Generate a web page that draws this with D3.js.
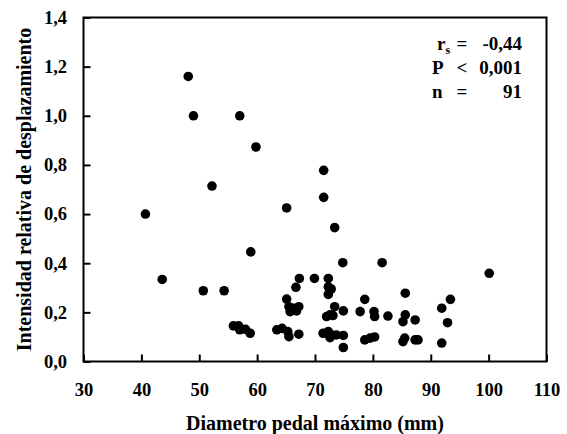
<!DOCTYPE html>
<html>
<head>
<meta charset="utf-8">
<script src="https://cdn.jsdelivr.net/npm/d3@7"></script>
<style>
  body { margin: 0; background: #fff; }
  svg text { font-family: "Liberation Serif", "Times New Roman", serif; font-weight: bold; fill: #000; }
</style>
</head>
<body>
<div class="chart"></div>
<script>
// diametro pedal maximo (mm)
const diametro = [
  40.7, 43.6, 48.1, 49.0, 50.7, 52.2, 54.3, 57.0, 58.9, 59.8,
  55.9, 56.8, 57.0, 58.0, 58.8,
  65.1, 71.5, 71.5, 73.4, 74.8, 81.6,
  67.3, 69.9, 72.3, 66.7, 72.3, 72.8, 72.3, 65.1,
  65.5, 65.7, 66.2, 67.2, 66.8,
  73.4, 74.9, 72.6, 72.0, 73.1,
  78.6, 77.8, 80.2, 80.3, 82.6,
  63.4, 64.3, 65.3, 65.5, 67.2,
  71.4, 72.3, 72.9, 72.6, 73.7, 74.9, 74.9,
  78.6, 79.5, 80.3,
  100.1, 85.6, 93.4, 91.9, 85.6, 85.2, 87.3, 92.9,
  85.5, 85.2, 87.3, 87.8, 91.9
];
// intensidad relativa de desplazamiento
const intensidad = [
  0.600, 0.334, 1.160, 1.000, 0.288, 0.714, 0.288, 1.000, 0.446, 0.873,
  0.145, 0.145, 0.129, 0.131, 0.115,
  0.625, 0.778, 0.668, 0.545, 0.402, 0.402,
  0.338, 0.338, 0.338, 0.302, 0.304, 0.295, 0.273, 0.254,
  0.223, 0.203, 0.217, 0.223, 0.206,
  0.223, 0.206, 0.190, 0.183, 0.187,
  0.253, 0.203, 0.203, 0.183, 0.185,
  0.129, 0.135, 0.122, 0.101, 0.111,
  0.115, 0.122, 0.108, 0.097, 0.108, 0.106, 0.057,
  0.088, 0.095, 0.100,
  0.359, 0.278, 0.253, 0.217, 0.190, 0.162, 0.169, 0.158,
  0.095, 0.081, 0.088, 0.088, 0.075
];

const xTicks = [30, 40, 50, 60, 70, 80, 90, 100, 110];
const yTicks = [0, 0.2, 0.4, 0.6, 0.8, 1.0, 1.2, 1.4];
const statLabels = ["r", "P", "n"];
const statOps = ["=", "<", "="];
const statValues = ["-0,44", "0,001", "91"];

const xTitle = "Diametro pedal máximo (mm)";
const yTitle = "Intensidad relativa de desplazamiento";

var cfg = {
  width: 463,
  height: 344,
  margin: {top: 17.5, right: 20, bottom: 72, left: 83.5}
};

var scale = {
  x: d3.scaleLinear()
      .domain([30, 110])
      .range([cfg.margin.left, cfg.margin.left + cfg.width]),
  y: d3.scaleLinear()
      .domain([0, 1.4])
      .range([cfg.margin.top + cfg.height, cfg.margin.top])
};

const comma = d => d3.format(".1f")(d).replace(".", ",");

function initAxis(svg){
  // x axis, ticks pointing inwards
  let x_axis = svg.append("g")
      .attr("transform", `translate(0, ${cfg.margin.top + cfg.height})`)
      .call(d3.axisBottom(scale.x).tickValues(xTicks).tickSizeInner(-7).tickSizeOuter(0).tickPadding(21));
  x_axis.select(".domain").remove();
  x_axis.selectAll("line").style("stroke", "#000").style("stroke-width", 2);
  x_axis.selectAll("text").style("font-size", "18.5px");

  // y axis
  let y_axis = svg.append("g")
      .attr("transform", `translate(${cfg.margin.left}, 0)`)
      .call(d3.axisLeft(scale.y).tickValues(yTicks).tickFormat(comma).tickSizeInner(-7).tickSizeOuter(0).tickPadding(16.5));
  y_axis.select(".domain").remove();
  y_axis.selectAll("line").style("stroke", "#000").style("stroke-width", 2);
  y_axis.selectAll("text").style("font-size", "18.5px");

  // frame
  svg.append("rect")
      .attr("x", cfg.margin.left)
      .attr("y", cfg.margin.top)
      .attr("width", cfg.width)
      .attr("height", cfg.height)
      .attr("fill", "none")
      .attr("stroke", "#000")
      .attr("stroke-width", 2);

  // titles
  svg.append("text")
      .attr("x", 315)
      .attr("y", 430)
      .attr("text-anchor", "middle")
      .style("font-size", "20px")
      .text(xTitle);

  svg.append("text")
      .attr("transform", `translate(31, ${cfg.margin.top + cfg.height / 2}) rotate(-90)`)
      .attr("text-anchor", "middle")
      .style("font-size", "20px")
      .text(yTitle);
}

function drawPoints(svg){
  svg.append("g")
    .selectAll("circle")
    .data(diametro.map((d, i) => ({x: d, y: intensidad[i]})))
    .enter()
    .append("circle")
      .attr("cx", d => scale.x(d.x))
      .attr("cy", d => scale.y(d.y))
      .attr("r", 4.8)
      .attr("fill", "#000");
}

function drawStats(svg){
  let g = svg.append("g").style("font-size", "19px");
  statLabels.forEach((lab, i) => {
    let y = 50 + i * 24;
    let t = g.append("text").attr("x", 432).attr("y", y).text(lab);
    if (i == 0) {
      t.attr("x", 437);
      t.append("tspan").attr("dy", 4).style("font-size", "12px").text("s");
    }
    g.append("text").attr("x", 462).attr("y", y).attr("text-anchor", "middle").text(statOps[i]);
    g.append("text").attr("x", 522).attr("y", y).attr("text-anchor", "end").text(statValues[i]);
  });
}

function createViz(){
  let svg = d3.select(".chart").append("svg")
      .attr("width", 567)
      .attr("height", 434);
  initAxis(svg);
  drawPoints(svg);
  drawStats(svg);
}

createViz();
</script>
</body>
</html>
